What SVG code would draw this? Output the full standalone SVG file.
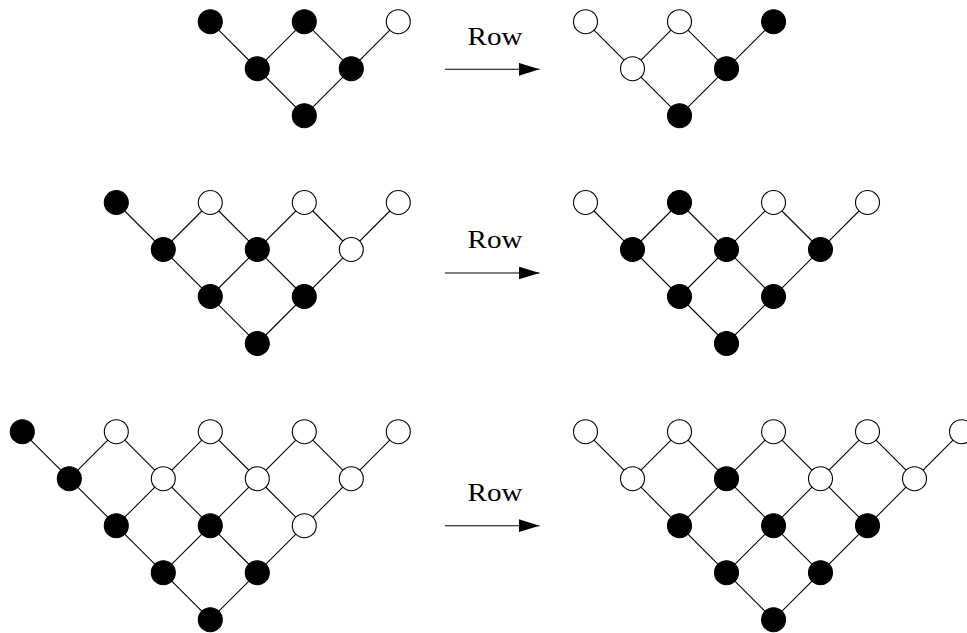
<svg xmlns="http://www.w3.org/2000/svg" width="967" height="633" viewBox="0 0 967 633">
<style>
.e{stroke:#000;stroke-width:1.1;fill:none}
.b{fill:#000;stroke:#000;stroke-width:1.1}
.w{fill:#fff;stroke:#000;stroke-width:1.1}
.t{font-family:"Liberation Serif","DejaVu Serif",serif;font-size:26px;fill:#000}
.a{stroke:#000;stroke-width:1.1;fill:none}
</style>
<defs>
<marker id="ah" markerUnits="userSpaceOnUse" markerWidth="22" markerHeight="14" refX="21" refY="6.5" orient="auto">
<path d="M0,0 L21,6.5 L0,13 Z" fill="#000"/>
</marker>
</defs>
<rect width="967" height="633" fill="#fff"/>
<g id="connectors">
<line class="e" x1="210.3" y1="21.7" x2="304.3" y2="115.7"/>
<line class="e" x1="304.3" y1="21.7" x2="351.3" y2="68.7"/>
<line class="e" x1="304.3" y1="21.7" x2="257.3" y2="68.7"/>
<line class="e" x1="398.3" y1="21.7" x2="304.3" y2="115.7"/>
<line class="e" x1="585.5" y1="21.7" x2="679.5" y2="115.7"/>
<line class="e" x1="679.5" y1="21.7" x2="726.5" y2="68.7"/>
<line class="e" x1="679.5" y1="21.7" x2="632.5" y2="68.7"/>
<line class="e" x1="773.5" y1="21.7" x2="679.5" y2="115.7"/>
<line class="e" x1="116.3" y1="202.5" x2="257.3" y2="343.5"/>
<line class="e" x1="210.3" y1="202.5" x2="304.3" y2="296.5"/>
<line class="e" x1="210.3" y1="202.5" x2="163.3" y2="249.5"/>
<line class="e" x1="304.3" y1="202.5" x2="351.3" y2="249.5"/>
<line class="e" x1="304.3" y1="202.5" x2="210.3" y2="296.5"/>
<line class="e" x1="398.3" y1="202.5" x2="257.3" y2="343.5"/>
<line class="e" x1="585.5" y1="202.5" x2="726.5" y2="343.5"/>
<line class="e" x1="679.5" y1="202.5" x2="773.5" y2="296.5"/>
<line class="e" x1="679.5" y1="202.5" x2="632.5" y2="249.5"/>
<line class="e" x1="773.5" y1="202.5" x2="820.5" y2="249.5"/>
<line class="e" x1="773.5" y1="202.5" x2="679.5" y2="296.5"/>
<line class="e" x1="867.5" y1="202.5" x2="726.5" y2="343.5"/>
<line class="e" x1="22.3" y1="431.7" x2="210.3" y2="619.7"/>
<line class="e" x1="116.3" y1="431.7" x2="257.3" y2="572.7"/>
<line class="e" x1="116.3" y1="431.7" x2="69.3" y2="478.7"/>
<line class="e" x1="210.3" y1="431.7" x2="304.3" y2="525.7"/>
<line class="e" x1="210.3" y1="431.7" x2="116.3" y2="525.7"/>
<line class="e" x1="304.3" y1="431.7" x2="351.3" y2="478.7"/>
<line class="e" x1="304.3" y1="431.7" x2="163.3" y2="572.7"/>
<line class="e" x1="398.3" y1="431.7" x2="210.3" y2="619.7"/>
<line class="e" x1="585.5" y1="431.7" x2="773.5" y2="619.7"/>
<line class="e" x1="679.5" y1="431.7" x2="820.5" y2="572.7"/>
<line class="e" x1="679.5" y1="431.7" x2="632.5" y2="478.7"/>
<line class="e" x1="773.5" y1="431.7" x2="867.5" y2="525.7"/>
<line class="e" x1="773.5" y1="431.7" x2="679.5" y2="525.7"/>
<line class="e" x1="867.5" y1="431.7" x2="914.5" y2="478.7"/>
<line class="e" x1="867.5" y1="431.7" x2="726.5" y2="572.7"/>
<line class="e" x1="961.5" y1="431.7" x2="773.5" y2="619.7"/>
<line class="a" x1="445" y1="69.3" x2="539.5" y2="69.3" marker-end="url(#ah)"/>
<line class="a" x1="445" y1="273" x2="539.5" y2="273" marker-end="url(#ah)"/>
<line class="a" x1="445" y1="525.7" x2="539.5" y2="525.7" marker-end="url(#ah)"/>
</g>
<g id="labels">
<text class="t" x="495" y="45" text-anchor="middle" textLength="55" lengthAdjust="spacingAndGlyphs">Row</text>
<text class="t" x="495" y="248" text-anchor="middle" textLength="55" lengthAdjust="spacingAndGlyphs">Row</text>
<text class="t" x="495" y="501" text-anchor="middle" textLength="55" lengthAdjust="spacingAndGlyphs">Row</text>
</g>
<g id="tl-0-0"><circle class="b" cx="210.3" cy="21.7" r="12"/></g>
<g id="tl-0-1"><circle class="b" cx="304.3" cy="21.7" r="12"/></g>
<g id="tl-0-2"><circle class="w" cx="398.3" cy="21.7" r="12"/></g>
<g id="tl-1-0"><circle class="b" cx="257.3" cy="68.7" r="12"/></g>
<g id="tl-1-1"><circle class="b" cx="351.3" cy="68.7" r="12"/></g>
<g id="tl-2-0"><circle class="b" cx="304.3" cy="115.7" r="12"/></g>
<g id="tr-0-0"><circle class="w" cx="585.5" cy="21.7" r="12"/></g>
<g id="tr-0-1"><circle class="w" cx="679.5" cy="21.7" r="12"/></g>
<g id="tr-0-2"><circle class="b" cx="773.5" cy="21.7" r="12"/></g>
<g id="tr-1-0"><circle class="w" cx="632.5" cy="68.7" r="12"/></g>
<g id="tr-1-1"><circle class="b" cx="726.5" cy="68.7" r="12"/></g>
<g id="tr-2-0"><circle class="b" cx="679.5" cy="115.7" r="12"/></g>
<g id="ml-0-0"><circle class="b" cx="116.3" cy="202.5" r="12"/></g>
<g id="ml-0-1"><circle class="w" cx="210.3" cy="202.5" r="12"/></g>
<g id="ml-0-2"><circle class="w" cx="304.3" cy="202.5" r="12"/></g>
<g id="ml-0-3"><circle class="w" cx="398.3" cy="202.5" r="12"/></g>
<g id="ml-1-0"><circle class="b" cx="163.3" cy="249.5" r="12"/></g>
<g id="ml-1-1"><circle class="b" cx="257.3" cy="249.5" r="12"/></g>
<g id="ml-1-2"><circle class="w" cx="351.3" cy="249.5" r="12"/></g>
<g id="ml-2-0"><circle class="b" cx="210.3" cy="296.5" r="12"/></g>
<g id="ml-2-1"><circle class="b" cx="304.3" cy="296.5" r="12"/></g>
<g id="ml-3-0"><circle class="b" cx="257.3" cy="343.5" r="12"/></g>
<g id="mr-0-0"><circle class="w" cx="585.5" cy="202.5" r="12"/></g>
<g id="mr-0-1"><circle class="b" cx="679.5" cy="202.5" r="12"/></g>
<g id="mr-0-2"><circle class="w" cx="773.5" cy="202.5" r="12"/></g>
<g id="mr-0-3"><circle class="w" cx="867.5" cy="202.5" r="12"/></g>
<g id="mr-1-0"><circle class="b" cx="632.5" cy="249.5" r="12"/></g>
<g id="mr-1-1"><circle class="b" cx="726.5" cy="249.5" r="12"/></g>
<g id="mr-1-2"><circle class="b" cx="820.5" cy="249.5" r="12"/></g>
<g id="mr-2-0"><circle class="b" cx="679.5" cy="296.5" r="12"/></g>
<g id="mr-2-1"><circle class="b" cx="773.5" cy="296.5" r="12"/></g>
<g id="mr-3-0"><circle class="b" cx="726.5" cy="343.5" r="12"/></g>
<g id="bl-0-0"><circle class="b" cx="22.3" cy="431.7" r="12"/></g>
<g id="bl-0-1"><circle class="w" cx="116.3" cy="431.7" r="12"/></g>
<g id="bl-0-2"><circle class="w" cx="210.3" cy="431.7" r="12"/></g>
<g id="bl-0-3"><circle class="w" cx="304.3" cy="431.7" r="12"/></g>
<g id="bl-0-4"><circle class="w" cx="398.3" cy="431.7" r="12"/></g>
<g id="bl-1-0"><circle class="b" cx="69.3" cy="478.7" r="12"/></g>
<g id="bl-1-1"><circle class="w" cx="163.3" cy="478.7" r="12"/></g>
<g id="bl-1-2"><circle class="w" cx="257.3" cy="478.7" r="12"/></g>
<g id="bl-1-3"><circle class="w" cx="351.3" cy="478.7" r="12"/></g>
<g id="bl-2-0"><circle class="b" cx="116.3" cy="525.7" r="12"/></g>
<g id="bl-2-1"><circle class="b" cx="210.3" cy="525.7" r="12"/></g>
<g id="bl-2-2"><circle class="w" cx="304.3" cy="525.7" r="12"/></g>
<g id="bl-3-0"><circle class="b" cx="163.3" cy="572.7" r="12"/></g>
<g id="bl-3-1"><circle class="b" cx="257.3" cy="572.7" r="12"/></g>
<g id="bl-4-0"><circle class="b" cx="210.3" cy="619.7" r="12"/></g>
<g id="br-0-0"><circle class="w" cx="585.5" cy="431.7" r="12"/></g>
<g id="br-0-1"><circle class="w" cx="679.5" cy="431.7" r="12"/></g>
<g id="br-0-2"><circle class="w" cx="773.5" cy="431.7" r="12"/></g>
<g id="br-0-3"><circle class="w" cx="867.5" cy="431.7" r="12"/></g>
<g id="br-0-4"><circle class="w" cx="961.5" cy="431.7" r="12"/></g>
<g id="br-1-0"><circle class="w" cx="632.5" cy="478.7" r="12"/></g>
<g id="br-1-1"><circle class="b" cx="726.5" cy="478.7" r="12"/></g>
<g id="br-1-2"><circle class="w" cx="820.5" cy="478.7" r="12"/></g>
<g id="br-1-3"><circle class="w" cx="914.5" cy="478.7" r="12"/></g>
<g id="br-2-0"><circle class="b" cx="679.5" cy="525.7" r="12"/></g>
<g id="br-2-1"><circle class="b" cx="773.5" cy="525.7" r="12"/></g>
<g id="br-2-2"><circle class="b" cx="867.5" cy="525.7" r="12"/></g>
<g id="br-3-0"><circle class="b" cx="726.5" cy="572.7" r="12"/></g>
<g id="br-3-1"><circle class="b" cx="820.5" cy="572.7" r="12"/></g>
<g id="br-4-0"><circle class="b" cx="773.5" cy="619.7" r="12"/></g>
</svg>
